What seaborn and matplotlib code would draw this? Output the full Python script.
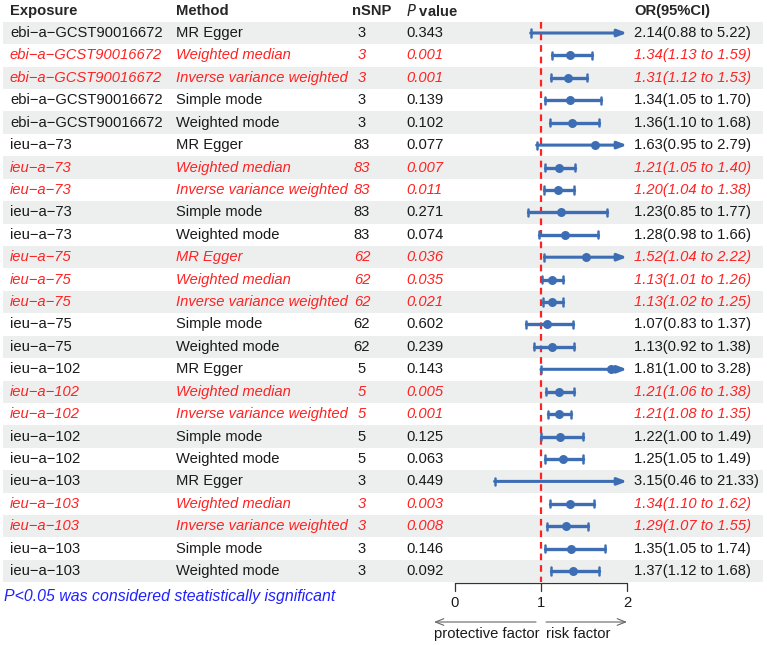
import matplotlib
matplotlib.use("Agg")
import matplotlib.pyplot as plt
import seaborn as sns
import pandas as pd

# data
exposure = (["ebi−a−GCST90016672"] * 5 + ["ieu−a−73"] * 5 + ["ieu−a−75"] * 5
            + ["ieu−a−102"] * 5 + ["ieu−a−103"] * 5)
method = ["MR Egger", "Weighted median", "Inverse variance weighted",
          "Simple mode", "Weighted mode"] * 5
nsnp = [3] * 5 + [83] * 5 + [62] * 5 + [5] * 5 + [3] * 5
pval = [0.343, 0.001, 0.001, 0.139, 0.102,
        0.077, 0.007, 0.011, 0.271, 0.074,
        0.036, 0.035, 0.021, 0.602, 0.239,
        0.143, 0.005, 0.001, 0.125, 0.063,
        0.449, 0.003, 0.008, 0.146, 0.092]
odds = [2.14, 1.34, 1.31, 1.34, 1.36,
        1.63, 1.21, 1.20, 1.23, 1.28,
        1.52, 1.13, 1.13, 1.07, 1.13,
        1.81, 1.21, 1.21, 1.22, 1.25,
        3.15, 1.34, 1.29, 1.35, 1.37]
lower = [0.88, 1.13, 1.12, 1.05, 1.10,
         0.95, 1.05, 1.04, 0.85, 0.98,
         1.04, 1.01, 1.02, 0.83, 0.92,
         1.00, 1.06, 1.08, 1.00, 1.05,
         0.46, 1.10, 1.07, 1.05, 1.12]
upper = [5.22, 1.59, 1.53, 1.70, 1.68,
         2.79, 1.40, 1.38, 1.77, 1.66,
         2.22, 1.26, 1.25, 1.37, 1.38,
         3.28, 1.38, 1.35, 1.49, 1.49,
         21.33, 1.62, 1.55, 1.74, 1.68]
xticks = [0, 1, 2]

df = pd.DataFrame({"exposure": exposure, "method": method, "nsnp": nsnp,
                   "p": pval, "or": odds, "lo": lower, "hi": upper})
df["row"] = range(len(df))
df["sig"] = df["p"] < 0.05

sns.set_theme(style="white")
plt.rcParams["font.family"] = ["Liberation Sans", "DejaVu Sans"]

BLUE = "#3d6eb4"
RED = "#ff2222"
GREY = "#edefef"
FS = 10.6

W, H = 767, 645
X0, PXU = 455, 86.0      # pixel of OR=0, pixels per unit
Y0, ROWH = 33, 22.42     # pixel of first row centre, row height


def px(x):
    return (x - X0) / PXU


def py(y):
    return (y - Y0) / ROWH


fig = plt.figure(figsize=(W / 100, H / 100), dpi=100)
ax = fig.add_axes([0, 0, 1, 1])
ax.set_xlim(px(0), px(W))
ax.set_ylim(py(H), py(0))
ax.axis("off")

n = len(df)
# zebra bands
for i in range(0, n, 2):
    ax.fill_between([px(3), px(763)], i - 0.5, i + 0.5, color=GREY, lw=0, zorder=0)

# header
hy = -1
ax.text(px(10), hy, "Exposure", fontsize=FS, fontweight="bold", va="center")
ax.text(px(176), hy, "Method", fontsize=FS, fontweight="bold", va="center")
ax.text(px(352), hy, "nSNP", fontsize=FS, fontweight="bold", va="center")
ax.text(px(406), hy, r"$\bf{\it{P}}$ value", fontsize=FS, fontweight="bold", va="center")
ax.text(px(634), hy, "OR(95%CI)", fontsize=FS, fontweight="bold", va="center")

# table text
for _, r in df.iterrows():
    col = RED if r["sig"] else "#1a1a1a"
    sty = "italic" if r["sig"] else "normal"
    kw = dict(fontsize=FS, color=col, style=sty, va="center")
    y = r["row"]
    ax.text(px(10), y, r["exposure"], **kw)
    ax.text(px(176), y, r["method"], **kw)
    ax.text(px(362), y, str(r["nsnp"]), ha="center", **kw)
    ax.text(px(406), y, f"{r['p']:.3f}", **kw)
    ax.text(px(634), y, f"{r['or']:.2f}({r['lo']:.2f} to {r['hi']:.2f})", **kw)

# reference line
ax.plot([1, 1], [-0.5, n - 0.5], color=RED, lw=1.6, ls=(0, (3, 2.2)), zorder=1)

# confidence intervals
cap = 0.16
for _, r in df.iterrows():
    y = r["row"]
    lo = max(r["lo"], 0)
    if r["hi"] > 2:
        ax.annotate("", xy=(2, y), xytext=(lo, y),
                    arrowprops=dict(arrowstyle="-|>,head_length=0.45,head_width=0.17",
                                    color=BLUE, lw=2.2, shrinkA=0, shrinkB=0), zorder=3)
        ax.plot([lo, lo], [y - cap, y + cap], color=BLUE, lw=1.8, zorder=3)
    else:
        ax.plot([lo, r["hi"]], [y, y], color=BLUE, lw=2.4, zorder=3)
        for e in (lo, r["hi"]):
            ax.plot([e, e], [y - cap, y + cap], color=BLUE, lw=1.8, zorder=3)

dots = df[df["or"] <= 2]
sns.scatterplot(data=dots, x="or", y="row", color=BLUE, s=42, edgecolor=BLUE,
                linewidth=0, zorder=4, ax=ax, legend=False)
ax.set_xlabel("")
ax.set_ylabel("")
ax.axis("off")

# custom x axis
ya = py(583)
ax.plot([xticks[0], xticks[-1]], [ya, ya], color="#333333", lw=0.9, clip_on=False)
for t in xticks:
    ax.plot([t, t], [ya, py(591)], color="#333333", lw=0.9)
    ax.text(t, py(603), str(t), fontsize=FS, ha="center", va="center", color="#1a1a1a")

ay = py(622)
ax.annotate("", xy=(px(434), ay), xytext=(px(536), ay),
            arrowprops=dict(arrowstyle="->,head_length=0.5,head_width=0.2",
                            color="#666666", lw=0.8, shrinkA=0, shrinkB=0))
ax.annotate("", xy=(px(627), ay), xytext=(px(546), ay),
            arrowprops=dict(arrowstyle="->,head_length=0.5,head_width=0.2",
                            color="#666666", lw=0.8, shrinkA=0, shrinkB=0))
ax.text(px(434), py(634), "protective factor", fontsize=FS, va="center", color="#1a1a1a")
ax.text(px(546), py(634), "risk factor", fontsize=FS, va="center", color="#1a1a1a")

# footnote
ax.text(px(4), py(596), "P<0.05 was considered steatistically isgnificant",
        fontsize=11.4, style="italic", color="#2020ff", va="center")

fig.savefig("out.png", dpi=100)
